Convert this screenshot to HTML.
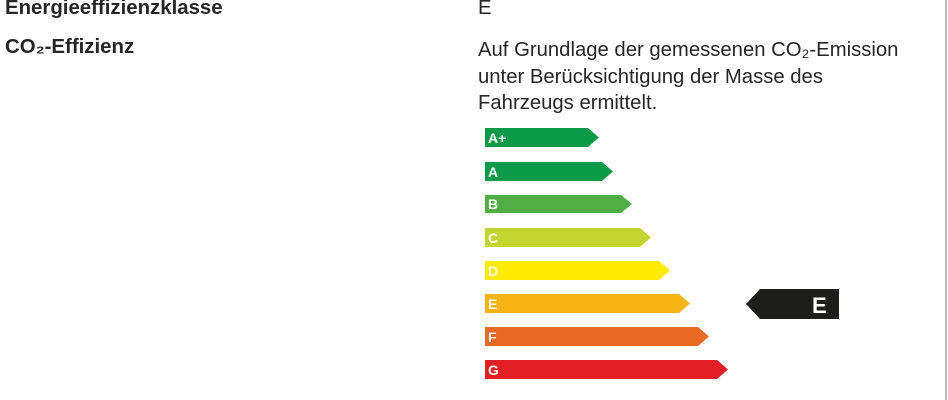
<!DOCTYPE html>
<html><head><style>
html,body{margin:0;padding:0;background:#fff;width:948px;height:400px;overflow:hidden;position:relative}
.t{position:absolute;font-family:"Liberation Sans",sans-serif;color:#262626;font-size:20.3px;white-space:nowrap}
.b{font-weight:bold;font-size:20.4px}
.vl{position:absolute;left:945px;top:0;width:2px;height:400px;background:#b8b8b8}
</style></head><body>
<div class="t b" style="left:5px;top:-3px">Energieeffizienzklasse</div>
<div class="t b" style="left:5px;top:36px">CO₂-Effizienz</div>
<div class="t" style="left:478px;top:-3px">E</div>
<div class="t" style="left:478px;top:37px;line-height:26.5px">Auf Grundlage der gemessenen CO₂-Emission<br>unter Berücksichtigung der Masse des<br>Fahrzeugs ermittelt.</div>
<div class="vl"></div>
<svg width="948" height="400" style="position:absolute;left:0;top:0" font-family="Liberation Sans, sans-serif" font-weight="bold">
<g font-size="14" fill="#fff">
<polygon points="485,128 588,128 599,137.5 588,147 485,147" fill="#0d9a48"/><text x="488" y="143">A+</text>
<polygon points="485,162 602,162 613,171.5 602,181 485,181" fill="#0d9a48"/><text x="488" y="177">A</text>
<polygon points="485,195 621,195 632,204 621,213 485,213" fill="#51ae47"/><text x="488" y="209">B</text>
<polygon points="485,228 640,228 651,237.5 640,247 485,247" fill="#c5d52f"/><text x="488" y="243">C</text>
<polygon points="485,261 659,261 670,270.5 659,280 485,280" fill="#ffec00"/><text x="488" y="276">D</text>
<polygon points="485,294 679,294 690,303.5 679,313 485,313" fill="#f8b415"/><text x="488" y="309">E</text>
<polygon points="485,327 698,327 709,336.5 698,346 485,346" fill="#e96925"/><text x="488" y="342">F</text>
<polygon points="485,360 717,360 728,369.5 717,379 485,379" fill="#e31e25"/><text x="488" y="375">G</text>
</g>
<polygon points="746,304 760,289 839,289 839,319 760,319" fill="#1d1d1b"/>
<text x="812" y="313" font-size="22" fill="#fff">E</text>
</svg>
</body></html>
